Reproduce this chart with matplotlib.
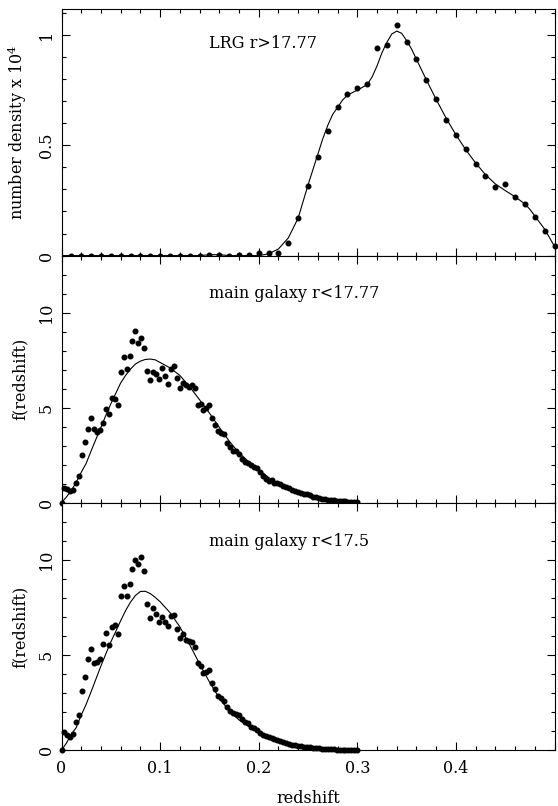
import numpy as np
import matplotlib
matplotlib.use("Agg")
import matplotlib.pyplot as plt
from matplotlib.ticker import MultipleLocator, FixedLocator, FixedFormatter

plt.rcParams['font.family'] = 'DejaVu Serif'
plt.rcParams['mathtext.fontset'] = 'dejavuserif'

# LRG r>17.77 : binned number density (x 1e4), bins every 0.01 in z
lrg_z = [0.01, 0.02, 0.03, 0.04, 0.05, 0.06, 0.07, 0.08, 0.09, 0.10,
         0.11, 0.12, 0.13, 0.14, 0.15, 0.16, 0.17, 0.18, 0.19, 0.20,
         0.21, 0.22, 0.23, 0.24, 0.25, 0.26, 0.27, 0.28, 0.29, 0.30,
         0.31, 0.32, 0.33, 0.34, 0.35, 0.36, 0.37, 0.38, 0.39, 0.40,
         0.41, 0.42, 0.43, 0.44, 0.45, 0.46, 0.47, 0.48, 0.49, 0.50]
lrg_n = [0, 0, 0, 0, 0, 0, 0, 0, 0, 0,
         0, 0, 0, 0, 0.004, 0.004, 0, 0.004, 0.001, 0.01,
         0.01, 0.013, 0.057, 0.169, 0.317, 0.445, 0.563, 0.674, 0.735, 0.762,
         0.780, 0.940, 0.957, 1.045, 0.967, 0.890, 0.794, 0.710, 0.617, 0.547,
         0.483, 0.414, 0.362, 0.311, 0.326, 0.265, 0.234, 0.177, 0.111, 0.043]

# smooth fit drawn through the LRG points
lrg_fit_z = [0, 0.10, 0.14, 0.15, 0.16, 0.17, 0.20, 0.21, 0.22, 0.23,
             0.24, 0.25, 0.26, 0.265, 0.27, 0.275, 0.28, 0.285, 0.29, 0.30,
             0.31, 0.315, 0.32, 0.325, 0.33, 0.335, 0.34, 0.345, 0.35, 0.355,
             0.36, 0.37, 0.38, 0.39, 0.40, 0.41, 0.42, 0.43, 0.44, 0.45,
             0.46, 0.47, 0.475, 0.48, 0.49, 0.50]
lrg_fit = [0, 0, 0, 0.004, 0.004, 0, 0, 0.008, 0.03, 0.08,
           0.17, 0.32, 0.46, 0.53, 0.59, 0.64, 0.672, 0.705, 0.728, 0.75,
           0.775, 0.81, 0.86, 0.92, 0.967, 1.005, 1.018, 1.008, 0.975, 0.937,
           0.89, 0.797, 0.708, 0.624, 0.548, 0.48, 0.42, 0.367, 0.325, 0.295,
           0.267, 0.234, 0.21, 0.18, 0.12, 0.042]

# main galaxy samples: f(z) in bins of 0.003 from z=0 to z=0.3
main_z_lo, main_z_hi = 0.0, 0.3
main1777 = [0.0, 0.75, 0.70, 0.60, 0.68, 1.05, 1.40, 2.49, 3.18, 3.86,
            4.46, 3.89, 3.74, 3.82, 4.21, 4.93, 4.67, 5.51, 5.47, 5.14,
            6.88, 7.65, 7.04, 7.70, 8.53, 9.02, 8.39, 8.67, 8.12, 6.95,
            6.47, 6.88, 6.79, 6.53, 7.07, 6.67, 6.25, 7.02, 7.21, 6.56,
            6.05, 6.28, 6.21, 6.11, 6.21, 6.02, 5.16, 5.19, 4.88, 4.96,
            5.12, 4.44, 4.07, 3.79, 3.68, 3.60, 3.16, 2.95, 2.72, 2.74,
            2.54, 2.28, 2.12, 2.11, 1.98, 1.89, 1.81, 1.61, 1.40, 1.26,
            1.16, 1.19, 1.05, 1.05, 0.96, 0.89, 0.82, 0.75, 0.67, 0.60,
            0.56, 0.53, 0.47, 0.44, 0.38, 0.32, 0.28, 0.25, 0.22, 0.20,
            0.16, 0.14, 0.12, 0.11, 0.09, 0.08, 0.07, 0.06, 0.05, 0.04,
            0.04]
main175 = [0.0, 0.98, 0.81, 0.72, 0.88, 1.47, 1.86, 3.12, 3.88, 4.81,
           5.35, 4.60, 4.67, 4.81, 5.60, 6.19, 5.54, 6.51, 6.58, 6.14,
           8.11, 8.63, 8.11, 8.75, 9.56, 10.0, 9.81, 10.19, 9.46, 7.72,
           6.96, 7.49, 7.18, 6.74, 7.02, 6.77, 6.53, 7.05, 7.12, 6.39,
           5.93, 6.11, 5.79, 5.74, 5.72, 5.42, 4.60, 4.44, 4.05, 4.14,
           4.23, 3.56, 3.23, 2.88, 2.74, 2.60, 2.30, 2.09, 1.95, 1.89,
           1.86, 1.65, 1.47, 1.42, 1.25, 1.15, 1.05, 0.92, 0.82, 0.74,
           0.68, 0.64, 0.60, 0.54, 0.48, 0.42, 0.37, 0.33, 0.30, 0.27,
           0.25, 0.23, 0.20, 0.18, 0.15, 0.13, 0.12, 0.10, 0.09, 0.08,
           0.06, 0.05, 0.05, 0.04, 0.04, 0.03, 0.03, 0.03, 0.02, 0.02,
           0.02]

fit_z = [0, 0.005, 0.01, 0.015, 0.02, 0.025, 0.03, 0.035, 0.04, 0.045,
         0.05, 0.055, 0.06, 0.065, 0.07, 0.075, 0.08, 0.085, 0.09, 0.095,
         0.10, 0.11, 0.12, 0.13, 0.14, 0.15, 0.16, 0.17, 0.18, 0.19,
         0.20, 0.21, 0.22, 0.23, 0.24, 0.25, 0.26, 0.27, 0.28, 0.29, 0.30]
fit1777 = [0, 0.3, 0.65, 1.08, 1.6, 2.07, 2.72, 3.35, 3.97, 4.6,
           5.2, 5.75, 6.3, 6.7, 7.03, 7.3, 7.45, 7.54, 7.56, 7.52,
           7.38, 7.1, 6.7, 6.1, 5.42, 4.72, 3.97, 3.25, 2.62, 2.15,
           1.75, 1.33, 1.0, 0.72, 0.5, 0.35, 0.23, 0.15, 0.09, 0.05, 0.03]
fit175 = [0, 0.38, 0.85, 1.2, 1.85, 2.42, 3.08, 3.76, 4.44, 5.08,
          5.7, 6.25, 6.82, 7.35, 7.8, 8.15, 8.36, 8.37, 8.25, 8.05,
          7.82, 7.25, 6.5, 5.56, 4.55, 3.6, 2.75, 2.07, 1.6, 1.25,
          0.95, 0.7, 0.5, 0.35, 0.24, 0.16, 0.1, 0.06, 0.04, 0.02, 0.01]

xticks = [0, 0.1, 0.2, 0.3, 0.4]
xticklabels = ['0', '0.1', '0.2', '0.3', '0.4']

FS = 11.5

fig = plt.figure(figsize=(5.58, 8.06), dpi=100)
W, H = 558.0, 806.0
left, width = 61.5 / W, 493.0 / W
ph = 247.0 / H
ax_top = fig.add_axes([left, 550.4 / H, width, ph])
ax_mid = fig.add_axes([left, 303.3 / H, width, ph])
ax_bot = fig.add_axes([left, 55.7 / H, width, ph])


def style(ax, ymax, ymaj, ymin, ylabels):
    ax.set_xlim(0, 0.5)
    ax.set_ylim(0, ymax)
    ax.xaxis.set_major_locator(FixedLocator(xticks + [0.5]))
    ax.xaxis.set_minor_locator(MultipleLocator(0.02))
    ax.yaxis.set_major_locator(FixedLocator(ymaj))
    ax.yaxis.set_minor_locator(MultipleLocator(ymin))
    ax.yaxis.set_major_formatter(FixedFormatter(ylabels))
    ax.tick_params(which='both', direction='in', top=True, right=True,
                   width=0.8, labelsize=FS)
    ax.tick_params(which='major', length=5.5)
    ax.tick_params(which='minor', length=3)
    ax.tick_params(axis='y', pad=5)
    for lab in ax.get_yticklabels():
        lab.set_rotation(90)
        lab.set_va('center')
    for s in ax.spines.values():
        s.set_linewidth(0.8)


style(ax_top, 1.12, [0, 0.5, 1], 0.1, ['0', '0.5', '1'])
ax_top.plot(lrg_z, lrg_n, 'o', color='black', ms=3.3, clip_on=False, zorder=3)
ax_top.plot(lrg_fit_z, lrg_fit, '-', color='black', lw=0.8)
ax_top.text(0.15, 0.963, 'LRG r>17.77', fontsize=FS, va='center', ha='left')
ax_top.set_ylabel(r'number density x 10$^4$', fontsize=FS, labelpad=6)
ax_top.tick_params(axis='x', labelbottom=False)

main_z = np.linspace(main_z_lo, main_z_hi, len(main1777))

style(ax_mid, 13, [0, 5, 10], 1, ['0', '5', '10'])
ax_mid.plot(main_z, main1777, 'o', color='black', ms=3.3, clip_on=False, zorder=3)
ax_mid.plot(fit_z, fit1777, '-', color='black', lw=0.8)
ax_mid.text(0.15, 11.0, 'main galaxy r<17.77', fontsize=FS, va='center', ha='left')
ax_mid.set_ylabel('f(redshift)', fontsize=FS, labelpad=6)
ax_mid.tick_params(axis='x', labelbottom=False)

style(ax_bot, 13, [0, 5, 10], 1, ['0', '5', '10'])
ax_bot.plot(main_z, main175, 'o', color='black', ms=3.3, clip_on=False, zorder=3)
ax_bot.plot(fit_z, fit175, '-', color='black', lw=0.8)
ax_bot.text(0.15, 11.0, 'main galaxy r<17.5', fontsize=FS, va='center', ha='left')
ax_bot.set_ylabel('f(redshift)', fontsize=FS, labelpad=6)
ax_bot.xaxis.set_major_formatter(FixedFormatter(xticklabels + ['']))
ax_bot.tick_params(axis='x', pad=7)
ax_bot.set_xlabel('redshift', fontsize=FS, labelpad=9)

fig.savefig('out.png', dpi=100)
